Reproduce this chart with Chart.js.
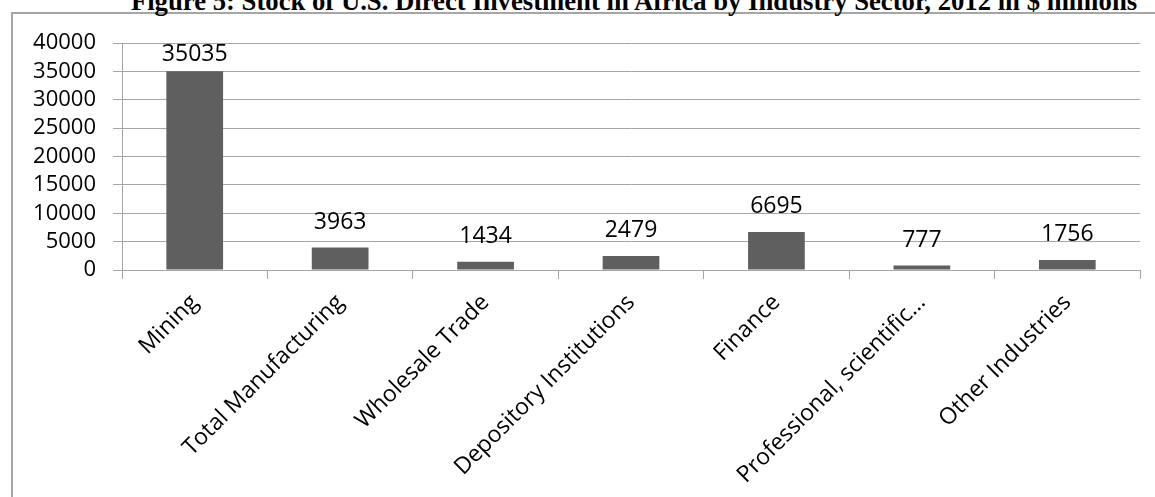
<!DOCTYPE html>
<html>
<head>
<meta charset="utf-8">
<script src="https://cdn.jsdelivr.net/npm/chart.js@4.4.0/dist/chart.umd.min.js"></script>
<style>
  html, body { margin: 0; padding: 0; background: #fff; overflow: hidden; }
  #wrap { position: relative; width: 1155px; height: 497px; }
  #frame { position: absolute; left: 11px; top: 12px; width: 1300px; height: 700px; border: 2px solid #a6a6a6; }
  #title { position: absolute; left: 0; width: 1268px; top: -12px; text-align: center;
           font: bold 26.7px/27px "Liberation Serif", "Times New Roman", serif; white-space: nowrap; color: #000; }
  canvas { position: absolute; left: 0; top: 0; }
</style>
</head>
<body>
<div id="wrap">
  <div id="frame"></div>
  <div id="title">Figure 5: Stock of U.S. Direct Investment in Africa by Industry Sector, 2012 in $ millions</div>
  <canvas id="chart" width="1155" height="497"></canvas>
</div>
<script>
const sectors = ['Mining', 'Total Manufacturing', 'Wholesale Trade', 'Depository Institutions',
                 'Finance', 'Professional, scientific…', 'Other Industries'];
const investment = [35035, 3963, 1434, 2479, 6695, 777, 1756];
const yTicks = [0, 5000, 10000, 15000, 20000, 25000, 30000, 35000, 40000];

const font = '"Open Sans", "Noto Sans", sans-serif';
const gridColor = '#a6a6a6';

// value labels above each bar (pushed down when they would leave the plot)
const barLabels = {
  id: 'barLabels',
  afterDatasetsDraw(chart) {
    const ctx = chart.ctx;
    const meta = chart.getDatasetMeta(0);
    ctx.save();
    ctx.font = '23px ' + font;
    ctx.fillStyle = '#000';
    ctx.textAlign = 'center';
    ctx.textBaseline = 'alphabetic';
    meta.data.forEach((bar, i) => {
      let y = bar.y - 19;
      y = Math.max(y, chart.chartArea.top + 18);
      ctx.fillText(String(investment[i]), bar.x, y);
    });
    ctx.restore();
  }
};

new Chart(document.getElementById('chart'), {
  type: 'bar',
  data: {
    labels: sectors,
    datasets: [{
      data: investment,
      backgroundColor: '#5f5f5f',
      borderWidth: 0,
      categoryPercentage: 1,
      barPercentage: 0.39
    }]
  },
  options: {
    responsive: false,
    animation: false,
    events: [],
    layout: { padding: { top: 43, right: 15, left: 0, bottom: 0 } },
    plugins: { legend: { display: false }, tooltip: { enabled: false } },
    scales: {
      x: {
        grid: { drawOnChartArea: false, color: gridColor, tickLength: 9, lineWidth: 1 },
        border: { display: true, color: gridColor, width: 1 },
        ticks: { color: '#000', font: { family: font, size: 23 }, minRotation: 45, maxRotation: 45, padding: 10, autoSkip: false },
        afterFit(scale) { scale.height = 227; }
      },
      y: {
        min: 0,
        max: 40000,
        afterBuildTicks(scale) { scale.ticks = yTicks.map(v => ({ value: v })); },
        grid: { color: gridColor, tickLength: 9, lineWidth: 1 },
        border: { display: true, color: gridColor, width: 1 },
        ticks: { color: '#000', font: { family: font, size: 22 }, padding: 17, autoSkip: false, callback: v => String(v) },
        afterFit(scale) { scale.width = 122; }
      }
    }
  },
  plugins: [barLabels]
});
</script>
</body>
</html>
